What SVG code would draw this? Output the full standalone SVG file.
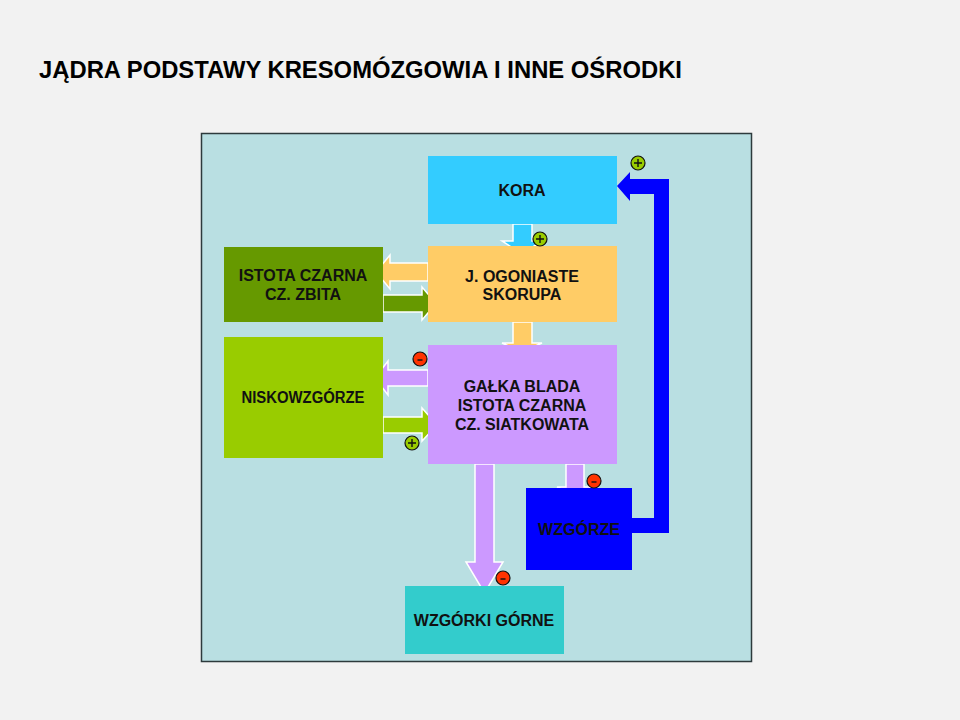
<svg xmlns="http://www.w3.org/2000/svg" width="960" height="720" viewBox="0 0 960 720">
<style>
.t{font-family:"Liberation Sans",Arial,sans-serif;font-weight:bold;fill:#111;text-anchor:middle;font-size:16px}
.title{font-family:"Liberation Sans",Arial,sans-serif;font-weight:bold;fill:#000;font-size:23px}
.ar{stroke:#fff;stroke-width:1.5;stroke-linejoin:miter}
.plus{fill:#99cc00;stroke:#111;stroke-width:1.2}
.minus{fill:#ff3300;stroke:#111;stroke-width:1.2}
.sg{stroke:#111;stroke-width:1.4;fill:none}
</style>
<rect width="960" height="720" fill="#f2f2f2"/>
<text class="title" x="39" y="78" textLength="643" lengthAdjust="spacingAndGlyphs">JĄDRA PODSTAWY KRESOMÓZGOWIA I INNE OŚRODKI</text>
<rect x="201.5" y="133.5" width="550" height="528" fill="#b9dfe2" stroke="#2d3a3c" stroke-width="1.5"/>

<g id="connectors">
  <path d="M632 518 H654 V194 H630 V201 L617 186 L630 172 V179 H669 V533 H632 Z" fill="#0000ff"/>
  <path class="ar" d="M513 224 H532 V241 H542 L522 254 L502 241 H513 Z" fill="#33ccff"/>
  <path class="ar" d="M428 263 H390 V255 L376 272 L390 289 V281 H428 Z" fill="#ffcc66"/>
  <path class="ar" d="M383 295 H422 V287 L436 303.5 L422 320 V312 H383 Z" fill="#669900"/>
  <path class="ar" d="M513 322 H532 V343 H542 L522 352 L502 343 H513 Z" fill="#ffcc66"/>
  <path class="ar" d="M428 370 H388 V361 L375 378 L388 395 V386 H428 Z" fill="#cc99ff"/>
  <path class="ar" d="M383 417 H422 V408 L437 425 L422 441 V433 H383 Z" fill="#99cc00"/>
  <path class="ar" d="M566 464 H584 V487 H593 L575 496 L557 487 H566 Z" fill="#cc99ff"/>
  <path class="ar" d="M475 464 H494 V562 H503 L484.5 593 L466 562 H475 Z" fill="#cc99ff"/>
</g>

<g id="kora"><rect x="428" y="156" width="189" height="68" fill="#33ccff"/><text class="t" x="522" y="196">KORA</text></g>
<g id="ogoniaste"><rect x="428" y="246" width="189" height="76" fill="#ffcc66"/><text class="t" x="522" y="282">J. OGONIASTE</text><text class="t" x="522" y="300">SKORUPA</text></g>
<g id="istota-zbita"><rect x="224" y="247" width="159" height="75" fill="#669900"/><text class="t" x="303" y="281">ISTOTA CZARNA</text><text class="t" x="303" y="300">CZ. ZBITA</text></g>
<g id="niskowzgorze"><rect x="224" y="337" width="159" height="121" fill="#99cc00"/><text class="t" x="303" y="403" textLength="123" lengthAdjust="spacingAndGlyphs">NISKOWZGÓRZE</text></g>
<g id="galka"><rect x="428" y="345" width="189" height="119" fill="#cc99ff"/><text class="t" x="522" y="392">GAŁKA BLADA</text><text class="t" x="522" y="411">ISTOTA CZARNA</text><text class="t" x="522" y="430">CZ. SIATKOWATA</text></g>
<g id="wzgorze"><rect x="526" y="488" width="106" height="82" fill="#0000ff"/><text class="t" x="579" y="535">WZGÓRZE</text></g>
<g id="wzgorki"><rect x="405" y="586" width="159" height="68" fill="#33cccc"/><text class="t" x="484" y="626">WZGÓRKI GÓRNE</text></g>

<g id="signs">
  <g><circle class="plus" cx="638" cy="163" r="7"/><path class="sg" d="M634 163 H642 M638 159 V167"/></g>
  <g><circle class="plus" cx="540" cy="239" r="7"/><path class="sg" d="M536 239 H544 M540 235 V243"/></g>
  <g><circle class="minus" cx="420" cy="359" r="7"/><path class="sg" d="M417.5 360 H422.5"/></g>
  <g><circle class="plus" cx="412" cy="443" r="7"/><path class="sg" d="M408 443 H416 M412 439 V447"/></g>
  <g><circle class="minus" cx="594" cy="481" r="7"/><path class="sg" d="M591.5 482 H596.5"/></g>
  <g><circle class="minus" cx="503" cy="578" r="7"/><path class="sg" d="M500.5 579 H505.5"/></g>
</g>
</svg>
